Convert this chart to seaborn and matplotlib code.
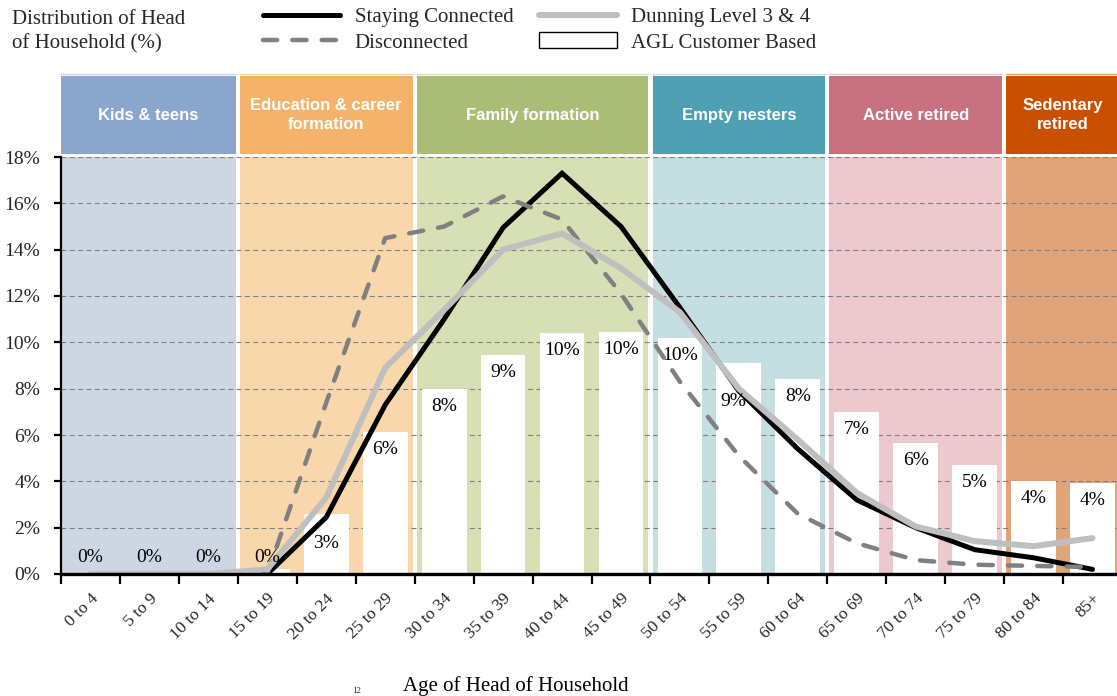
import numpy as np
import matplotlib
matplotlib.use("Agg")
import matplotlib.pyplot as plt
import seaborn as sns
from matplotlib.patches import Rectangle, Patch
from matplotlib.lines import Line2D
from matplotlib.transforms import offset_copy

# ---- data -------------------------------------------------------------
age_groups = ["0 to 4", "5 to 9", "10 to 14", "15 to 19", "20 to 24", "25 to 29",
              "30 to 34", "35 to 39", "40 to 44", "45 to 49", "50 to 54", "55 to 59",
              "60 to 64", "65 to 69", "70 to 74", "75 to 79", "80 to 84", "85+"]

agl_customer = [0, 0, 0, 0.2, 2.6, 6.13, 7.98, 9.45, 10.4, 10.45, 10.2, 9.1,
                8.4, 7.0, 5.65, 4.7, 4.0, 3.93]
staying_connected = [0, 0, 0, 0, 2.45, 7.3, 11.0, 14.95, 17.3, 15.0, 11.5, 7.9,
                     5.4, 3.2, 2.0, 1.05, 0.7, 0.2]
disconnected = [0, 0, 0, 0, 7.4, 14.5, 15.0, 16.3, 15.3, 12.1, 8.3, 5.1,
                2.6, 1.33, 0.6, 0.4, 0.35, 0.3]
dunning_level = [0, 0, 0, 0.2, 3.3, 8.9, 11.4, 14.0, 14.7, 13.2, 11.3, 8.0,
                 5.8, 3.5, 2.05, 1.42, 1.2, 1.55]

life_stages = ["Kids & teens", "Education & career\nformation", "Family formation",
               "Empty nesters", "Active retired", "Sedentary\nretired"]
stage_sizes = [3, 3, 4, 3, 3, 2]
stage_header_colors = ["#8AA6CC", "#F4B26B", "#AABD76", "#4FA0B2", "#C87181", "#C85000"]
stage_fill_colors = ["#CDD6E3", "#F9D7AC", "#D7DFB4", "#C4DEE1", "#EBC9CE", "#E0A47A"]

y_ticks = [0, 2, 4, 6, 8, 10, 12, 14, 16, 18]

# ---- figure -------------------------------------------------------------
sns.set_theme(style="white")
plt.rcParams["font.family"] = ["Liberation Serif", "DejaVu Serif"]

W, H = 1117, 696
fig = plt.figure(figsize=(W / 100, H / 100), dpi=100)
ax = fig.add_axes([61 / W, (H - 574) / H, 1061 / W, 417 / H])

pos = np.arange(len(age_groups))

# life-stage bands: pale body inside the plot, solid header above it
start = -0.5
gap = 0.035
for i, (name, size, hc, fc) in enumerate(zip(life_stages, stage_sizes,
                                             stage_header_colors, stage_fill_colors)):
    x0 = start + (0 if i == 0 else gap)
    x1 = start + size - gap
    ax.axvspan(x0, x1, ymin=0.003, ymax=1, color=fc, lw=0, zorder=0)
    ax.add_patch(Rectangle((x0, 18.13), x1 - x0, 3.36, facecolor=hc,
                           edgecolor="none", clip_on=False, zorder=5))
    ax.plot([x0, x1], [21.6, 21.6], color=fc, lw=1.0, clip_on=False, zorder=5)
    ax.text((x0 + x1) / 2, 19.81, name, color="white", ha="center", va="center",
            fontsize=12, fontweight="bold", family=["Liberation Sans"],
            linespacing=1.3, zorder=6, clip_on=False)
    start += size

# bars
sns.barplot(x=pos, y=agl_customer, native_scale=True, color="white", saturation=1,
            width=0.76, edgecolor="none", linewidth=0, ax=ax, zorder=2)

# lines
sns.lineplot(x=pos, y=staying_connected, sort=False, color="black", linewidth=3.6,
             solid_capstyle="round", solid_joinstyle="miter", ax=ax, zorder=3)
sns.lineplot(x=pos, y=disconnected, sort=False, color="#808080", linewidth=3.2,
             linestyle=(0, (3.2, 3.4)), dash_capstyle="round", ax=ax, zorder=3)
sns.lineplot(x=pos, y=dunning_level, sort=False, color="#BFBFBF", linewidth=4.3,
             solid_capstyle="round", solid_joinstyle="round", ax=ax, zorder=3)

# bar value labels (inside the top of the bar; small bars get it above / centred)
nudges = {"55 to 59": (-0.09, -0.9)}
for xi, name, v in zip(pos, age_groups, agl_customer):
    if v < 1:
        ly = 0.73
    elif v < 3:
        ly = v / 2
    else:
        ly = v - 0.75
    dx, dy = nudges.get(name, (0, 0))
    ax.text(xi + dx, ly + dy, f"{round(v):.0f}%", ha="center", va="center",
            fontsize=14, color="black", zorder=4)

# axes
ax.set_xlim(-0.5, len(age_groups) - 0.5)
ax.set_ylim(0, 18)
ax.set_yticks(y_ticks)
ax.set_yticklabels([f"{t}%" for t in y_ticks], fontsize=14)
ax.set_xticks(np.arange(len(age_groups) + 1) - 0.5)
ax.set_xticklabels([])
ax.set_xticks(pos, minor=True)
ax.set_xticklabels(age_groups, minor=True, rotation=45, ha="right",
                   rotation_mode="anchor", fontsize=12.5)
for lab in ax.get_xticklabels(minor=True):
    lab.set_transform(offset_copy(lab.get_transform(), fig=fig, x=5, y=0, units="dots"))

ax.tick_params(axis="x", which="major", bottom=True, direction="out", length=7,
               width=1.6, color="black")
ax.tick_params(axis="x", which="minor", bottom=True, length=0, pad=12)
ax.tick_params(axis="y", left=True, direction="out", length=5, width=1.6,
               color="black", pad=10)

ax.set_axisbelow(True)
ax.yaxis.grid(True, color="#808080", linestyle=(0, (4.5, 3)), linewidth=0.8)
ax.xaxis.grid(False)

for side in ("top", "right"):
    ax.spines[side].set_visible(False)
ax.spines["left"].set_color("black")
ax.spines["left"].set_linewidth(1.6)
ax.spines["bottom"].set_color("black")
ax.spines["bottom"].set_linewidth(2.4)
ax.spines["bottom"].set_zorder(7)

ax.set_ylabel("")
ax.set_xlabel("Age of Head of Household", fontsize=15, color="black")
ax.xaxis.set_label_coords((516 - 61) / 1061, (574 - 686) / 417)
ax.xaxis.label.set_va("center")

# title block and legend
fig.text(12 / W, 1 - 19 / H, "Distribution of Head", fontsize=15, va="center", ha="left")
fig.text(12 / W, 1 - 44 / H, "of Household (%)", fontsize=15, va="center", ha="left")

handles = [
    Line2D([], [], color="black", linewidth=3.6, solid_capstyle="round"),
    Line2D([], [], color="#808080", linewidth=3.2, linestyle=(0, (3.2, 3.4)),
           dash_capstyle="round"),
    Line2D([], [], color="#BFBFBF", linewidth=4.3, solid_capstyle="round"),
    Patch(facecolor="white", edgecolor="black", linewidth=1.0),
]
labels = ["Staying Connected", "Disconnected", "Dunning Level 3 & 4", "AGL Customer Based"]
fig.legend(handles, labels, ncol=2, loc="upper left", bbox_to_anchor=(263 / W, 1 - 7 / H),
           frameon=False, fontsize=15, handlelength=3.7, handleheight=0.8,
           handletextpad=0.7, columnspacing=1.25, labelspacing=0.25,
           borderpad=0, borderaxespad=0)

fig.text(357 / W, 1 / H, "12", fontsize=6.5, va="bottom", ha="center")

fig.savefig("out.png", dpi=100)
